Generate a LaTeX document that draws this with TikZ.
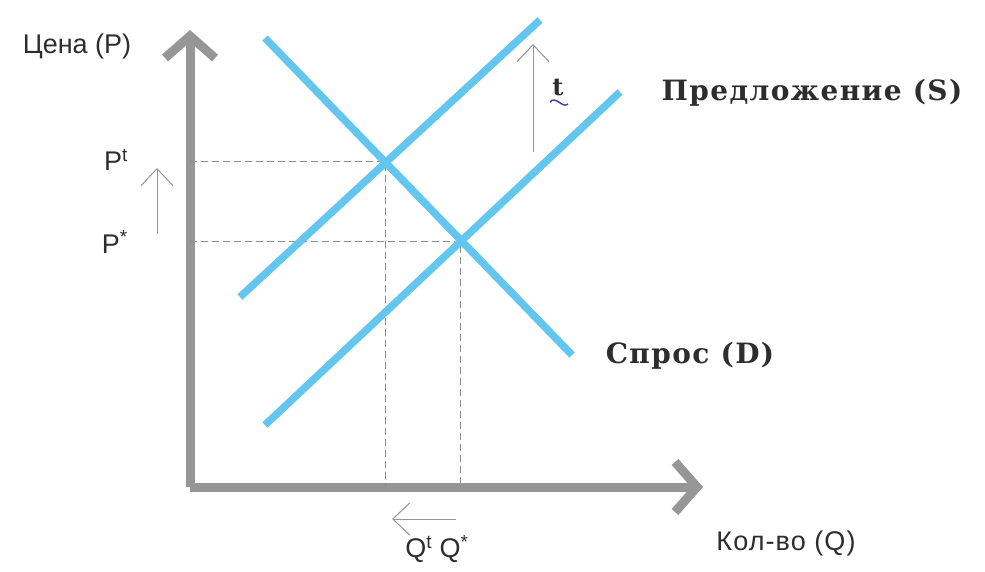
\documentclass[tikz,border=0pt]{standalone}
\usepackage{fontspec}
\setmainfont{DejaVu Serif}
\setsansfont{Liberation Sans}
\usepackage{xcolor}
\usetikzlibrary{arrows.meta,positioning}
\definecolor{curveblue}{RGB}{98,198,238}
\definecolor{axisgray}{RGB}{150,150,150}
\definecolor{guidegray}{RGB}{140,140,140}
\definecolor{marknavy}{RGB}{60,60,170}
\definecolor{textdark}{RGB}{45,45,45}

\begin{document}
\begin{tikzpicture}[x=1pt,y=-1pt,
    axisline/.style={line width=9pt, axisgray, -{Straight Barb[length=22pt,width=50pt]}},
    curveline/.style={line width=7.5pt, curveblue, line cap=butt},
    guideline/.style={guidegray, line width=0.8pt, dash pattern=on 7pt off 4pt},
    shiftarrow/.style={line width=1pt, axisgray, -{Straight Barb[length=17pt,width=32pt]}},
    sanslabel/.style={font=\sffamily\fontsize{27}{27}\selectfont, inner sep=0pt, textdark},
    seriflabel/.style={font=\bfseries\fontsize{28}{28}\selectfont\addfontfeature{LetterSpace=5}, inner sep=0pt, textdark}]
			\useasboundingbox (0,0) rectangle (985,571);
			
			\coordinate (O) at (190,487);
			\coordinate (Ytop) at (190,30);
			\coordinate (Xend) at (703,487);
			
			\draw[axisline] (O) -- (Ytop);
			\draw[axisline] (O) -- (Xend);
			
			% supply, demand
			\coordinate (S1a) at (265,425); \coordinate (S1b) at (620,92);
			\coordinate (S2a) at (240,297); \coordinate (S2b) at (540,20);
			\coordinate (Da) at (265,38); \coordinate (Db) at (572,355);
			
			\coordinate (Et) at (385,161);
			\coordinate (Es) at (460,241);
			\coordinate (Pt) at (190,161); \coordinate (Ps) at (190,241);
			\coordinate (Qt) at (385,487); \coordinate (Qs) at (460,487);
			
			\draw[guideline] (Pt) -- (Et) -- (Qt);
			\draw[guideline] (Ps) -- (Es) -- (Qs);
			
			\draw[curveline] (S1a) -- (S1b);
			\draw[curveline] (S2a) -- (S2b);
			\draw[curveline] (Da) -- (Db);
			
			% shifts
			\coordinate (Tlow) at (533,152); \coordinate (Thigh) at (533,44);
			\draw[shiftarrow] (Tlow) -- (Thigh);
			\coordinate (Plow) at (157,234); \coordinate (Phigh) at (157,168);
			\draw[shiftarrow] (Plow) -- (Phigh);
			\coordinate (Qright) at (456,519); \coordinate (Qleft) at (392,519);
			\draw[shiftarrow] (Qright) -- (Qleft);
			
			\node[seriflabel, font=\bfseries\fontsize{24}{24}\selectfont] (tax) at (558,88) {t};
			\draw[marknavy, line width=1.4pt] (550,102) .. controls (556,95) and (562,109) .. (568,104);
			
			\node[seriflabel] (Slabel) at (812,93) {Предложение (S)};
			\node[seriflabel] (Dlabel) at (690,356) {Спрос (D)};
			
			\node[sanslabel] (Plabel) at (77,47) {Цена (P)};
			\node[sanslabel, font=\sffamily\fontsize{27}{27}\selectfont\addfontfeature{LetterSpace=4}] (Qlabel) at (786,544) {Кол-во (Q)};
			
			\node[sanslabel, anchor=east] (Ptlabel) at (128,160) {P\textsuperscript{t}};
			\node[sanslabel, anchor=east] (Pslabel) at (128,242) {P\textsuperscript{*}};
			\node[sanslabel] (Qlabels) at (437,549) {Q\textsuperscript{t} Q\textsuperscript{*}};
		\end{tikzpicture}
\end{document}
